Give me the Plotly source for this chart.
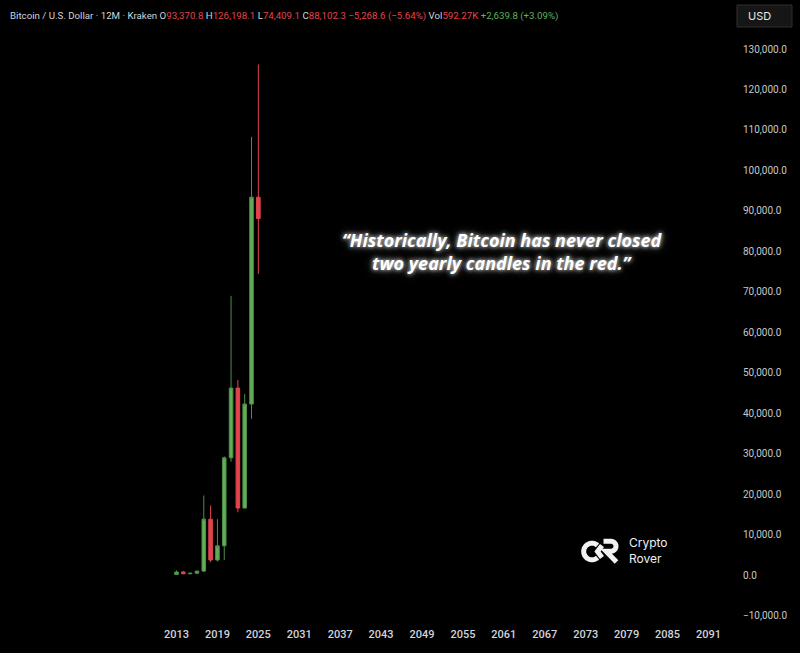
import math
import plotly.graph_objects as go

# ---- data (yearly BTC/USD candles, Kraken) ----
years = [2013, 2014, 2015, 2016, 2017, 2018, 2019, 2020, 2021, 2022, 2023, 2024, 2025]
opens = [120, 750, 320, 430, 960, 13800, 3700, 7200, 28950, 46200, 16550, 42250, 93370.8]
highs = [1150, 1000, 500, 980, 19650, 17200, 13800, 29300, 69000, 48200, 44700, 108300, 126198.1]
lows = [110, 160, 150, 350, 750, 3200, 3350, 3700, 28000, 15500, 16500, 38600, 74409.1]
closes = [740, 320, 430, 960, 13800, 3700, 7200, 28950, 46200, 16550, 42250, 93370.8, 88102.3]

x_tick_years = list(range(2013, 2092, 6))
y_tick_vals = list(range(-10000, 130001, 10000))
y_tick_text = [("\u2212" if v < 0 else "") + f"{abs(v):,.1f}" for v in y_tick_vals]

GREEN = "#62ae58"
GREEN_W = "#4f8f47"
RED = "#e2434d"

W, H = 800, 653
L, R, T, B = 0, 62, 0, 27
PW, PH = W - L - R, H - T - B

fig = go.Figure()
fig.add_trace(go.Candlestick(
    x=years, open=opens, high=highs, low=lows, close=closes,
    increasing=dict(line=dict(color=GREEN_W, width=1), fillcolor=GREEN),
    decreasing=dict(line=dict(color=RED, width=1), fillcolor=RED),
    whiskerwidth=0, showlegend=False,
))


def px(xp):
    return (xp - L) / PW


def py(yp):
    return 1 - (yp - T) / PH


annotations = []
G = "#d1d4dc"
hdr = (f'<span style="color:{G}">Bitcoin / U.S. Dollar · 12M · Kraken</span> '
       f'<span style="color:{G}">O</span><span style="color:{RED}">93,370.8</span> '
       f'<span style="color:{G}">H</span><span style="color:{RED}">126,198.1</span> '
       f'<span style="color:{G}">L</span><span style="color:{RED}">74,409.1</span> '
       f'<span style="color:{G}">C</span><span style="color:{RED}">88,102.3</span> '
       f'<span style="color:{RED}">\u22125,268.6 (\u22125.64%)</span> '
       f'<span style="color:{G}">Vol</span><span style="color:{RED}">592.27K</span> '
       f'<span style="color:{GREEN}">+2,639.8 (+3.09%)</span>')
annotations.append(dict(text=hdr, xref="paper", yref="paper", x=px(8), y=py(16),
                        xanchor="left", yanchor="middle", showarrow=False,
                        font=dict(family="Roboto", size=9.7, color=G)))

glow = "0px 0px 4px rgba(255,255,255,0.9), 0px 0px 9px rgba(255,255,255,0.5)"
for txt, yy in [("\u201cHistorically, Bitcoin has never closed", 240),
                ("two yearly candles in the red.\u201d", 263)]:
    annotations.append(dict(text=txt, xref="paper", yref="paper", x=px(502), y=py(yy),
                            xanchor="center", yanchor="middle", showarrow=False,
                            font=dict(family="Open Sans", size=18, color="#ffffff",
                                      weight="bold", style="italic", shadow=glow)))

# logo text
annotations.append(dict(text="Crypto<br>Rover", xref="paper", yref="paper", x=px(627), y=py(550.5),
                        xanchor="left", yanchor="middle", showarrow=False, align="left",
                        font=dict(family="Inter", size=12, color="#f0f0f0")))


def ppath(points, closed=False):
    s = "M " + " L ".join(f"{px(a):.5f},{py(b):.5f}" for a, b in points)
    return s + (" Z" if closed else "")


# logo mark (decoration): C arc + notch, and R
cx, cy, rr = 592.0, 551.5, 8.3
arc = [(cx + rr * math.cos(math.radians(a)), cy - rr * math.sin(math.radians(a)))
       for a in range(48, 313, 6)]
logo_paths = [
    ppath(arc),
    ppath([(602, 545.5), (597.5, 551.5), (602, 557.5)]),
    ppath([(603.5, 541.2), (611, 541.2)] +
          [(611 + 5 * math.cos(math.radians(a)), 546.2 - 5 * math.sin(math.radians(a)))
           for a in range(90, -91, -15)] + [(606, 551.2), (616.5, 562)]),
]
for p in logo_paths:
    fig.add_shape(type="path", xref="paper", yref="paper", path=p,
                  line=dict(color="#f2f2f2", width=5), layer="above")

# USD box
fig.add_shape(type="rect", xref="paper", yref="paper",
              x0=px(737), x1=px(792), y0=py(27), y1=py(5),
              fillcolor="#161616", line=dict(color="#2e2e2e", width=1), layer="above")
annotations.append(dict(text="USD", xref="paper", yref="paper", x=px(746), y=py(16),
                        xanchor="left", yanchor="middle", showarrow=False,
                        font=dict(family="Inter", size=11, color="#e8e8e8")))

px_per_year = 6.82
x0 = 2013 - 176.5 / px_per_year
x1 = x0 + PW / px_per_year
px_per_val = 40.46 / 10000
y_top = (575 - T) / px_per_val
y_bot = -(T + PH - 575) / px_per_val

fig.update_layout(
    width=W, height=H,
    margin=dict(l=L, r=R, t=T, b=B),
    paper_bgcolor="#000000", plot_bgcolor="#000000",
    annotations=annotations,
    boxgap=0.25,
    xaxis=dict(range=[x0, x1], tickvals=x_tick_years, ticktext=[str(v) for v in x_tick_years],
               showgrid=False, zeroline=False, showline=False, ticks="",
               rangeslider=dict(visible=False),
               tickfont=dict(family="Roboto", size=11, color="#d1d4dc", weight=500)),
    yaxis=dict(range=[y_bot, y_top], side="right", tickvals=y_tick_vals, ticktext=y_tick_text,
               showgrid=False, zeroline=False, showline=False, ticks="",
               ticklabelstandoff=4,
               tickfont=dict(family="Roboto", size=10, color="#c8c8c8")),
)

fig.write_html("out.html", config={"displayModeBar": False},
               post_script="document.body.style.margin='0';document.body.style.background='#000';")
